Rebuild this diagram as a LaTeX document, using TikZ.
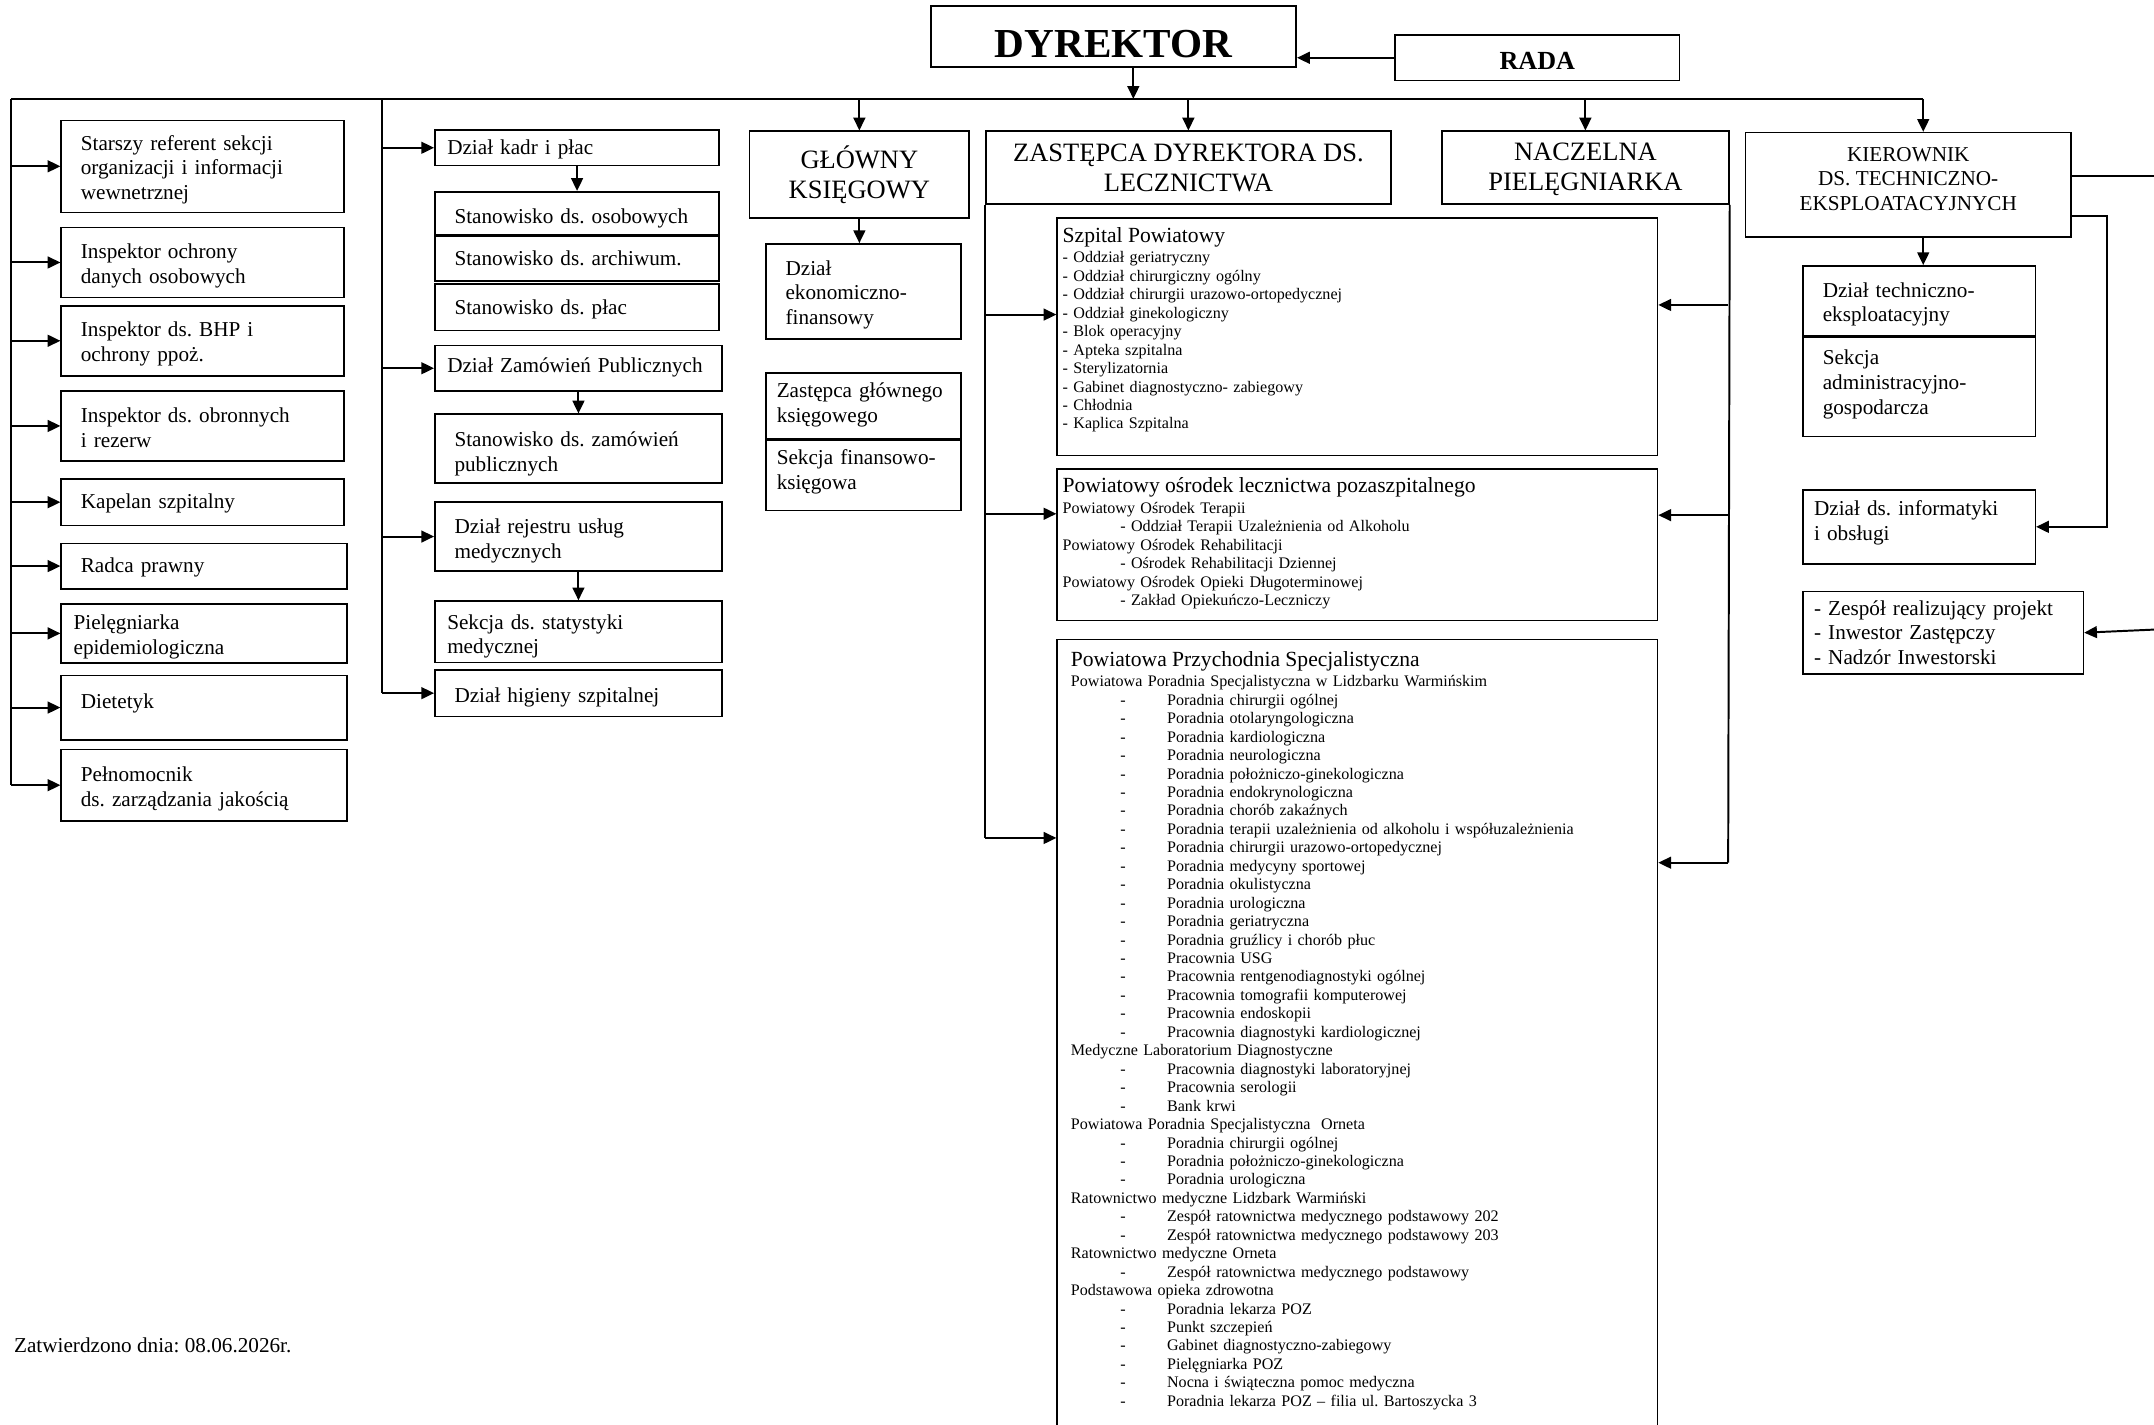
\documentclass[tikz,border=0pt]{standalone}
\usepackage{fontspec}
\setmainfont{Liberation Serif}
\frenchspacing
\usetikzlibrary{arrows.meta, positioning}
\newcommand{\bxfont}{\fontsize{10.8}{12.6}\selectfont}
\newcommand{\hdfont}{\fontsize{13.5}{15.5}\selectfont}
\newcommand{\smfont}{\fontsize{8.2}{9.4}\selectfont}
\newcommand{\ttlfont}{\fontsize{11}{13}\selectfont}
\newcommand{\pitem}[1]{\hspace*{25.2pt}\makebox[23.8pt][l]{-}#1\par}
\newcommand{\lift}[1]{\par\vspace{#1}\hrule height 0pt}
\tikzstyle{base} = [draw, rectangle, line width=0.8pt, anchor=north west, inner ysep=2pt]
\tikzstyle{block} = [base, align=left, font=\bxfont, text height=11pt]
\tikzstyle{head} = [base, align=center, font=\hdfont]
\tikzstyle{list} = [base, align=left, font=\smfont]
\tikzstyle{ln} = [line width=1pt]
\tikzstyle{arr} = [line width=1pt, -{Triangle[length=6.5pt, width=6pt]}]

\begin{document}
\begin{tikzpicture}[x=0.7pt, y=-0.7pt]
  \useasboundingbox (0,0) rectangle (1568,1037);
  \clip (0,0) rectangle (1568,1037);
  % top
  \node[head, font=\fontsize{21}{25}\selectfont\bfseries, text height=20.9pt, text depth=0pt, minimum width=186.2pt, minimum height=30.8pt] (dyr) at (677,4) {DYREKTOR};
  \node[head, font=\fontsize{13.3}{16}\selectfont\bfseries, text height=12.3pt, text depth=0pt, minimum width=144.9pt, minimum height=23.1pt] (rada) at (1015,25) {RADA};
  \coordinate (bl) at (8,72);
  \coordinate (br) at (1400,72);
  \coordinate (bd) at (825,72);
  \coordinate (v2) at (278,72);
  % left column
  \node[block, inner xsep=10pt, text width=124.2pt, minimum height=46.9pt] (sr) at (44,87) {Starszy referent sekcji\\organizacji i informacji\\wewnetrznej};
  \node[block, inner xsep=10pt, text width=124.2pt, minimum height=35.7pt] (iod) at (44,165) {Inspektor ochrony\\danych osobowych};
  \node[block, inner xsep=10pt, text width=124.2pt, minimum height=35.7pt] (bhp) at (44,222) {Inspektor ds. BHP i\\ochrony ppoż.};
  \node[block, inner xsep=10pt, text width=124.2pt, minimum height=35.7pt, text height=9pt] (obr) at (44,284) {Inspektor ds. obronnych\\i rezerw};
  \node[block, inner xsep=10pt, text width=124.2pt, minimum height=23.8pt, text height=8.8pt] (kap) at (44,348) {Kapelan szpitalny};
  \node[block, inner xsep=10pt, text width=125.6pt, minimum height=23.1pt, text height=8.8pt] (radca) at (44,395) {Radca prawny};
  \node[block, inner xsep=6.3pt, text width=133pt, minimum height=30.1pt] (piel) at (44,439) {Pielęgniarka\\epidemiologiczna};
  \node[block, inner xsep=10pt, text width=125.6pt, minimum height=32.9pt] (diet) at (44,491) {Dietetyk\lift{7.8pt}};
  \node[block, inner xsep=10pt, text width=125.6pt, minimum height=36.4pt, text height=11.5pt] (peln) at (44,545) {Pełnomocnik\\ds. zarządzania jakością};
  % second column
  \node[block, inner xsep=6.3pt, text width=132.3pt, minimum height=18.2pt, text height=8.8pt] (kadry) at (316,94) {Dział kadr i płac};
  \node[block, inner xsep=10pt, text width=124.9pt, minimum height=21.7pt, text height=13pt] (sos) at (316,139) {Stanowisko ds. osobowych};
  \node[block, inner xsep=10pt, text width=124.9pt, minimum height=23.1pt, text height=7.4pt, below=0pt of sos] (sarch) {Stanowisko ds. archiwum.};
  \node[block, inner xsep=10pt, text width=124.9pt, minimum height=23.8pt, text height=10pt] (splac) at (316,206) {Stanowisko ds. płac};
  \node[block, inner xsep=6.3pt, text width=133.7pt, minimum height=23.1pt, text height=7pt] (zam) at (316,251) {Dział Zamówień Publicznych};
  \node[block, inner xsep=10pt, text width=126.3pt, minimum height=35pt, text height=13pt] (szam) at (316,301) {Stanowisko ds. zamówień\\publicznych};
  \node[block, inner xsep=10pt, text width=126.3pt, minimum height=35pt, text height=12.3pt] (rej) at (316,365) {Dział rejestru usług\\medycznych};
  \node[block, inner xsep=6.3pt, text width=133.7pt, minimum height=28pt, text height=12.3pt] (stat) at (316,437) {Sekcja ds. statystyki\\medycznej};
  \node[block, inner xsep=10pt, text width=126.3pt, minimum height=23.8pt, text height=11.5pt] (hig) at (316,487) {Dział higieny szpitalnej};
  % glowny ksiegowy
  \node[head, minimum width=112pt, minimum height=44.1pt] (gk) at (545,95) {GŁÓWNY\\KSIĘGOWY};
  \node[block, inner xsep=10pt, text width=79.4pt, minimum height=48.3pt] (ekon) at (557,177) {Dział\\ekonomiczno-\\finansowy};
  \node[block, inner xsep=5.5pt, text width=88.4pt, minimum height=33.6pt, text height=6.3pt] (zgk) at (557,271) {Zastępca głównego\\księgowego};
  \node[block, inner xsep=5.5pt, text width=88.4pt, minimum height=35.7pt, text height=3.5pt, below=0pt of zgk] (sfk) {Sekcja finansowo-\\księgowa};
  % lecznictwo
  \node[head, minimum width=206.5pt, minimum height=37.1pt] (zdl) at (717,95) {ZASTĘPCA DYREKTORA DS.\\LECZNICTWA};
  \node[head, minimum width=146.3pt, minimum height=37.1pt, text depth=1pt] (np) at (1049,95) {NACZELNA\\PIELĘGNIARKA};
  \node[list, inner xsep=2.8pt, text width=300.3pt, minimum height=121.1pt] (szp) at (769,158) {{\ttlfont Szpital Powiatowy\par}\vspace{1.2pt}
    - Oddział geriatryczny\\
    - Oddział chirurgiczny ogólny\\
    - Oddział chirurgii urazowo-ortopedycznej\\
    - Oddział ginekologiczny\\
    - Blok operacyjny\\
    - Apteka szpitalna\\
    - Sterylizatornia\\
    - Gabinet diagnostyczno- zabiegowy\\
    - Chłodnia\\
    - Kaplica Szpitalna\lift{7pt}};
  \node[list, inner xsep=2.8pt, text width=300.3pt, minimum height=77pt] (osr) at (769,341) {{\ttlfont Powiatowy ośrodek lecznictwa pozaszpitalnego\par}\vspace{1.2pt}
    Powiatowy Ośrodek Terapii\\
    \hspace*{29.4pt}- Oddział Terapii Uzależnienia od Alkoholu\\
    Powiatowy Ośrodek Rehabilitacji\\
    \hspace*{29.4pt}- Ośrodek Rehabilitacji Dziennej\\
    Powiatowy Ośrodek Opieki Długoterminowej\\
    \hspace*{29.4pt}- Zakład Opiekuńczo-Leczniczy\lift{1.4pt}};
  \node[list, inner xsep=7pt, text width=291.9pt, minimum height=416.5pt] (prz) at (769,465) {{\ttlfont Powiatowa Przychodnia Specjalistyczna\par}\vspace{1.2pt}
    Powiatowa Poradnia Specjalistyczna w Lidzbarku Warmińskim\par
    \pitem{Poradnia chirurgii ogólnej}
    \pitem{Poradnia otolaryngologiczna}
    \pitem{Poradnia kardiologiczna}
    \pitem{Poradnia neurologiczna}
    \pitem{Poradnia położniczo-ginekologiczna}
    \pitem{Poradnia endokrynologiczna}
    \pitem{Poradnia chorób zakaźnych}
    \pitem{Poradnia terapii uzależnienia od alkoholu i współuzależnienia}
    \pitem{Poradnia chirurgii urazowo-ortopedycznej}
    \pitem{Poradnia medycyny sportowej}
    \pitem{Poradnia okulistyczna}
    \pitem{Poradnia urologiczna}
    \pitem{Poradnia geriatryczna}
    \pitem{Poradnia gruźlicy i chorób płuc}
    \pitem{Pracownia USG}
    \pitem{Pracownia rentgenodiagnostyki ogólnej}
    \pitem{Pracownia tomografii komputerowej}
    \pitem{Pracownia endoskopii}
    \pitem{Pracownia diagnostyki kardiologicznej}
    Medyczne Laboratorium Diagnostyczne\par
    \pitem{Pracownia diagnostyki laboratoryjnej}
    \pitem{Pracownia serologii}
    \pitem{Bank krwi}
    Powiatowa Poradnia Specjalistyczna\ \ Orneta\par
    \pitem{Poradnia chirurgii ogólnej}
    \pitem{Poradnia położniczo-ginekologiczna}
    \pitem{Poradnia urologiczna}
    Ratownictwo medyczne Lidzbark Warmiński\par
    \pitem{Zespół ratownictwa medycznego podstawowy 202}
    \pitem{Zespół ratownictwa medycznego podstawowy 203}
    Ratownictwo medyczne Orneta\par
    \pitem{Zespół ratownictwa medycznego podstawowy}
    Podstawowa opieka zdrowotna\par
    \pitem{Poradnia lekarza POZ}
    \pitem{Punkt szczepień}
    \pitem{Gabinet diagnostyczno-zabiegowy}
    \pitem{Pielęgniarka POZ}
    \pitem{Nocna i świąteczna pomoc medyczna}
    \pitem{Poradnia lekarza POZ – filia ul. Bartoszycka 3}
    \lift{18.2pt}};
  \coordinate (zl1) at (717,229);
  \coordinate (zl2) at (717,374);
  \coordinate (zl3) at (717,610);
  \coordinate (nr1) at (1258,222);
  \coordinate (nr2) at (1258,375);
  \coordinate (nr3) at (1258,628);
  % techniczne
  \node[base, align=center, font=\bxfont, text depth=6pt, minimum width=165.9pt, minimum height=53.2pt] (kier) at (1270,96) {KIEROWNIK\\DS. TECHNICZNO-\\EKSPLOATACYJNYCH};
  \node[block, inner xsep=10pt, text width=98.3pt, minimum height=35.7pt] (tech) at (1312,193) {Dział techniczno-\\eksploatacyjny};
  \node[block, inner xsep=10pt, text width=98.3pt, minimum height=50.4pt, text height=4.9pt, below=0pt of tech] (adm) {Sekcja\\administracyjno-\\gospodarcza};
  \node[block, inner xsep=5.6pt, text width=107.1pt, minimum height=35.7pt] (inf) at (1312,356) {Dział ds. informatyki\\i obsługi\lift{7.8pt}};
  \node[block, inner xsep=5.6pt, text width=131.6pt, minimum height=42pt, text height=7.4pt] (zesp) at (1312,430) {- Zespół realizujący projekt\\- Inwestor Zastępczy\\- Nadzór Inwestorski};
  \coordinate (k1) at (1507,128);
  \coordinate (ke) at (1575,128);
  \coordinate (k2) at (1507,157);
  \coordinate (k3) at (1534,157);
  \coordinate (ze) at (1575,458);
  \node[anchor=west, inner sep=0pt, font=\bxfont] (zatw) at (10,979) {Zatwierdzono dnia: 08.06.2026r.};
  % connectors
  \draw[arr] (rada.west) -- (rada.west -| dyr.east);
  \draw[arr] (dyr.south -| bd) -- (bd);
  \draw[ln] (bl) -- (br);
  \foreach \n in {gk, zdl, np} \draw[arr] (\n.north |- bl) -- (\n.north);
  \draw[arr] (br) -- (br |- kier.north);
  \draw[ln] (bl) -- (bl |- peln.west);
  \foreach \n in {sr, iod, bhp, obr, kap, radca, piel, diet, peln} \draw[arr] (bl |- \n.west) -- (\n.west);
  \draw[ln] (v2) -- (v2 |- hig.west);
  \foreach \n in {kadry, zam, rej, hig} \draw[arr] (v2 |- \n.west) -- (\n.west);
  \draw[arr] (kadry.south) -- (sos.north);
  \draw[arr] (zam.south) -- (szam.north);
  \draw[arr] (rej.south) -- (stat.north);
  \draw[arr] (gk.south) -- (gk.south |- ekon.north);
  \draw[ln] (zdl.south west) -- (zl3);
  \foreach \src/\dst in {zl1/szp, zl2/osr, zl3/prz} \draw[arr] (\src) -- (\src -| \dst.west);
  \draw[ln] (np.south east) -- (nr3);
  \foreach \src/\dst in {nr1/szp, nr2/osr, nr3/prz} \draw[arr] (\src) -- (\src -| \dst.east);
  \draw[arr] (br |- kier.south) -- (br |- tech.north);
  \draw[ln] (k1) -- (ke);
  \draw[arr] (k2) -- (k3) |- (inf.east);
  \draw[arr] (ze) -- (zesp.east);
\end{tikzpicture}
\end{document}
